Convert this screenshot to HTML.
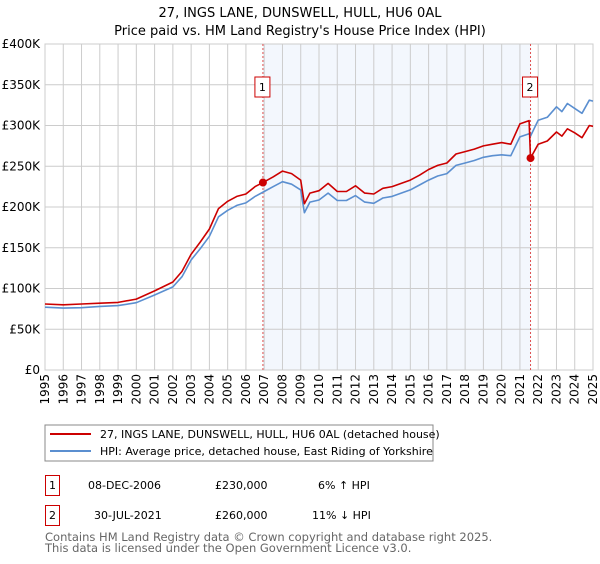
<!DOCTYPE html>
<html><head><meta charset="utf-8"><style>
body{margin:0;background:#fff;font-family:"DejaVu Sans","Liberation Sans",sans-serif;}
svg text{font-family:"DejaVu Sans","Liberation Sans",sans-serif;}
</style></head><body>
<svg id="chart" width="600" height="560" viewBox="0 0 600 560" xmlns="http://www.w3.org/2000/svg">
<text x="300" y="17" font-size="13" text-anchor="middle">27, INGS LANE, DUNSWELL, HULL, HU6 0AL</text>
<text x="300" y="35" font-size="13" text-anchor="middle">Price paid vs. HM Land Registry's House Price Index (HPI)</text>
<g id="plot"></g>
<g>
<rect x="45" y="425" width="388" height="36" fill="#fff" stroke="#888"/>
<line x1="50" y1="434" x2="91" y2="434" stroke="#cc0000" stroke-width="2"/>
<text x="100" y="438" font-size="11">27, INGS LANE, DUNSWELL, HULL, HU6 0AL (detached house)</text>
<line x1="50" y1="451" x2="91" y2="451" stroke="#5b8fd0" stroke-width="2"/>
<text x="100" y="455" font-size="11">HPI: Average price, detached house, East Riding of Yorkshire</text>
</g>
<g font-size="11">
<rect x="45.5" y="475.5" width="14" height="20" fill="#fff" stroke="#cc0000"/>
<text x="52.5" y="489" text-anchor="middle">1</text>
<text x="88" y="489">08-DEC-2006</text>
<text x="215" y="489">£230,000</text>
<text x="318" y="489">6% ↑ HPI</text>
<rect x="45.5" y="505.5" width="14" height="20" fill="#fff" stroke="#cc0000"/>
<text x="52.5" y="519" text-anchor="middle">2</text>
<text x="94" y="519">30-JUL-2021</text>
<text x="215" y="519">£260,000</text>
<text x="312" y="519">11% ↓ HPI</text>
</g>
<text x="45" y="541" font-size="11.5" fill="#666">Contains HM Land Registry data © Crown copyright and database right 2025.</text>
<text x="45" y="552" font-size="11.5" fill="#666">This data is licensed under the Open Government Licence v3.0.</text>
</svg>
<script>
const hpiYears=[1995,1996,1997,1998,1999,2000,2001,2002,2002.5,2003,2003.5,2004,2004.5,2005,2005.5,2006,2006.5,2007,2007.5,2008,2008.5,2009,2009.2,2009.5,2010,2010.5,2011,2011.5,2012,2012.5,2013,2013.5,2014,2014.5,2015,2015.5,2016,2016.5,2017,2017.5,2018,2018.5,2019,2019.5,2020,2020.5,2021,2021.5,2021.58,2022,2022.5,2023,2023.3,2023.6,2024,2024.4,2024.8,2025];
const hpiValues=[77000,76000,76500,78000,79000,82600,92000,102000,114500,135000,149000,164000,188000,196000,202000,205000,213000,219000,225000,231000,228000,221000,193000,206000,208600,217000,208000,208000,214000,206000,204500,211000,213000,217000,221000,227000,233000,238000,241000,251000,254000,257000,261000,263000,264000,263000,286000,290000,287000,306500,310000,323000,317000,327000,321000,315000,331000,330000];
const propYears=[1995,1996,1997,1998,1999,2000,2001,2002,2002.5,2003,2003.5,2004,2004.5,2005,2005.5,2006,2006.5,2006.93,2007.5,2008,2008.5,2009,2009.2,2009.5,2010,2010.5,2011,2011.5,2012,2012.5,2013,2013.5,2014,2014.5,2015,2015.5,2016,2016.5,2017,2017.5,2018,2018.5,2019,2019.5,2020,2020.5,2021,2021.5,2021.58,2022,2022.5,2023,2023.3,2023.6,2024,2024.4,2024.8,2025];
const propValues=[81000,80000,81000,82000,83000,87000,97000,108000,121000,142000,157000,173000,198000,207000,213000,216000,225000,230000,237000,244000,241000,233000,204000,217000,220000,229000,219000,219000,226000,217000,216000,223000,225000,229000,233000,239000,246000,251000,254000,265000,268000,271000,275000,277000,279000,277000,302000,306000,260000,277000,281000,292000,287000,296000,291000,285000,300000,299000];
const saleYears=[2006.93,2021.58];
const saleValues=[230000,260000];
const saleLabels=["1","2"];
const yTicks=[0,50000,100000,150000,200000,250000,300000,350000,400000];
const yTickLabels=["£0","£50K","£100K","£150K","£200K","£250K","£300K","£350K","£400K"];
const xTicks=[1995,1996,1997,1998,1999,2000,2001,2002,2003,2004,2005,2006,2007,2008,2009,2010,2011,2012,2013,2014,2015,2016,2017,2018,2019,2020,2021,2022,2023,2024,2025];

const L=45,R=593,T=44,B=370;
const xs=y=>L+(y-1995)/(2025-1995)*(R-L);
const ys=v=>B-v/400000*(B-T);
const NS="http://www.w3.org/2000/svg";
const g=document.getElementById('plot');
function mk(tag,attrs,parent){const e=document.createElementNS(NS,tag);for(const k in attrs)e.setAttribute(k,attrs[k]);(parent||g).appendChild(e);return e;}

let shade=mk('rect',{x:xs(saleYears[0]),y:T,width:xs(saleYears[1])-xs(saleYears[0]),height:B-T,fill:'#eef3fc',opacity:0.7});



yTicks.forEach((v,i)=>{
 let ln=mk('line',{x1:L,x2:R,y1:ys(v),y2:ys(v),stroke:'#ccc','stroke-width':1});
 
 
 let t=mk('text',{x:L-5,y:ys(v)+4,'font-size':12,'text-anchor':'end'});
 
 
 t.textContent=yTickLabels[i];
});
xTicks.forEach(y=>{
 let ln=mk('line',{x1:xs(y),x2:xs(y),y1:T,y2:B,stroke:'#ccc','stroke-width':1});
 
 
 let t=mk('text',{x:0,y:0,'font-size':12,'text-anchor':'end',transform:`translate(${xs(y)+4},${B+4}) rotate(-90)`});
 
 
 t.textContent=y;
});
let frame=mk('rect',{x:L,y:T,width:R-L,height:B-T,fill:'none',stroke:'#ccc'});



saleYears.forEach((y,i)=>{
 let ln=mk('line',{x1:xs(y),x2:xs(y),y1:T,y2:B,stroke:'#e05050','stroke-width':1,'stroke-dasharray':'2,2'});
 
 
});

function path(xa,va){return xa.map((x,i)=>(i?'L':'M')+xs(x).toFixed(1)+','+ys(va[i]).toFixed(1)).join('');}
let hp=mk('path',{d:path(hpiYears,hpiValues),fill:'none',stroke:'#5b8fd0','stroke-width':1.6,'stroke-linejoin':'round'});


let pp=mk('path',{d:path(propYears,propValues),fill:'none',stroke:'#cc0000','stroke-width':1.6,'stroke-linejoin':'round'});



saleYears.forEach((y,i)=>{
 let c=mk('circle',{cx:xs(y),cy:ys(saleValues[i]),r:4,fill:'#cc0000'});
 
 
 let bx=mk('rect',{x:xs(y)-8,y:77,width:15,height:20,fill:'#fff',stroke:'#cc0000'});
 
 
 let t=mk('text',{x:xs(y)-0.5,y:91,'font-size':11,'text-anchor':'middle'});
 
 
 t.textContent=saleLabels[i];
});
</script>
</body></html>
